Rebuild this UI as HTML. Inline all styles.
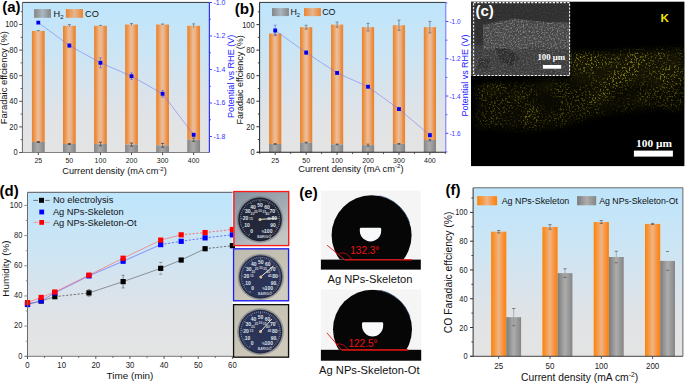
<!DOCTYPE html>
<html><head><meta charset="utf-8"><style>
html,body{margin:0;padding:0;background:#fff;width:685px;height:383px;overflow:hidden}
svg{display:block}
svg{font-family:"Liberation Sans", sans-serif}
</style></head><body>
<svg width="685" height="383" viewBox="0 0 685 383">
<defs>
<linearGradient id="bg" x1="0" y1="0" x2="0" y2="1">
  <stop offset="0" stop-color="#bee5fc"/>
  <stop offset="0.35" stop-color="#cce5f4"/>
  <stop offset="0.62" stop-color="#dae3eb"/>
  <stop offset="0.8" stop-color="#e1e3e5"/>
  <stop offset="1" stop-color="#e4e4e4"/>
</linearGradient>
<linearGradient id="og" x1="0" y1="0" x2="1" y2="0">
  <stop offset="0" stop-color="#e9812f"/>
  <stop offset="0.18" stop-color="#ee9549"/>
  <stop offset="0.45" stop-color="#ebbd98"/>
  <stop offset="0.62" stop-color="#ebb38c"/>
  <stop offset="0.85" stop-color="#ec8e40"/>
  <stop offset="1" stop-color="#e8812e"/>
</linearGradient>
<linearGradient id="gg" x1="0" y1="0" x2="1" y2="0">
  <stop offset="0" stop-color="#858585"/>
  <stop offset="0.45" stop-color="#ababab"/>
  <stop offset="1" stop-color="#838383"/>
</linearGradient>
<linearGradient id="ogl" x1="0" y1="0" x2="1" y2="0">
  <stop offset="0" stop-color="#eb8330"/>
  <stop offset="0.5" stop-color="#e4b690"/>
  <stop offset="1" stop-color="#eb8330"/>
</linearGradient>
<linearGradient id="ggl" x1="0" y1="0" x2="1" y2="0">
  <stop offset="0" stop-color="#858585"/>
  <stop offset="0.5" stop-color="#a9b7c0"/>
  <stop offset="1" stop-color="#858585"/>
</linearGradient>
<linearGradient id="of" x1="0" y1="0" x2="1" y2="0">
  <stop offset="0" stop-color="#ff8203"/>
  <stop offset="0.2" stop-color="#f7953a"/>
  <stop offset="0.5" stop-color="#efb585"/>
  <stop offset="0.8" stop-color="#f9903a"/>
  <stop offset="1" stop-color="#ff8204"/>
</linearGradient>
<linearGradient id="gf" x1="0" y1="0" x2="1" y2="0">
  <stop offset="0" stop-color="#7a7a7a"/>
  <stop offset="0.5" stop-color="#adadad"/>
  <stop offset="1" stop-color="#858585"/>
</linearGradient>

<filter id="speck" filterUnits="userSpaceOnUse" x="471" y="36" width="214" height="100" color-interpolation-filters="sRGB">
  <feTurbulence type="fractalNoise" baseFrequency="0.55" numOctaves="2" seed="3" result="fine"/>
  <feTurbulence type="fractalNoise" baseFrequency="0.045" numOctaves="2" seed="11" result="coarse"/>
  <feColorMatrix in="fine" type="matrix" values="0 0 0 0 0  0 0 0 0 0  0 0 0 0 0  6 0 0 0 -3.2" result="fa"/>
  <feColorMatrix in="coarse" type="matrix" values="0 0 0 0 0  0 0 0 0 0  0 0 0 0 0  2.6 0 0 0 -0.55" result="ca"/>
  <feComposite in="fa" in2="ca" operator="arithmetic" k1="1" k2="0" k3="0" k4="0" result="a"/>
  <feFlood flood-color="#8a8416" result="col"/>
  <feComposite in="col" in2="a" operator="in"/>
  <feGaussianBlur stdDeviation="0.6"/>
</filter>
<filter id="bandblur" filterUnits="userSpaceOnUse" x="440" y="0" width="280" height="180">
  <feGaussianBlur stdDeviation="3"/>
</filter>
<mask id="speckmask" maskUnits="userSpaceOnUse" x="471" y="30" width="214" height="110">
  <g filter="url(#bandblur)">
    <path d="M476,86 L570,80 L570,54 L684,50 L684,110 L650,108 L615,112 L590,116 L565,126 L530,130 L476,126 Z" fill="#7a7a7a"/>
    <path d="M570,80 L570,54 L684,50 L684,80 L640,82 L600,86 Z" fill="#e8e8e8"/>
    <ellipse cx="531" cy="112" rx="9" ry="3.5" transform="rotate(-55 531 112)" fill="#fff"/>
    <ellipse cx="492" cy="88" rx="9" ry="4" fill="#fff"/>
    <ellipse cx="518" cy="96" rx="8" ry="4" fill="#ddd"/>
    <ellipse cx="600" cy="96" rx="10" ry="6" fill="#fff"/>
    <ellipse cx="662" cy="84" rx="9" ry="5" fill="#fff"/>
    <ellipse cx="548" cy="84" rx="10" ry="4" fill="#eee"/>
    <ellipse cx="640" cy="100" rx="8" ry="5" fill="#ccc"/>
  </g>
</mask>
<clipPath id="insetclip"><rect x="471" y="1.7" width="99" height="74"/></clipPath>
<filter id="semn" filterUnits="userSpaceOnUse" x="471" y="1.7" width="99" height="74" color-interpolation-filters="sRGB">
  <feTurbulence type="fractalNoise" baseFrequency="0.65" numOctaves="2" seed="5"/>
  <feColorMatrix type="matrix" values="0 0 0 0 0.68  0 0 0 0 0.68  0 0 0 0 0.68  1.8 0 0 0 -0.82"/>
</filter>
<mask id="semmask" maskUnits="userSpaceOnUse" x="471" y="1.7" width="99" height="74">
  <rect x="471" y="1.7" width="99" height="74" fill="#333"/>
  <path d="M483,25 L500,21 L515,18.5 L545,22 L570,22.5 L570,49 L483,49 Z" fill="#fff"/>
  <rect x="471" y="49" width="99" height="27" fill="#999"/>
</mask>

<linearGradient id="gbg1" x1="0" y1="0" x2="0.6" y2="1">
  <stop offset="0" stop-color="#84929f"/>
  <stop offset="0.55" stop-color="#a2aab2"/>
  <stop offset="1" stop-color="#c4c6c4"/>
</linearGradient>
<linearGradient id="gbg2" x1="0" y1="0" x2="0.6" y2="1">
  <stop offset="0" stop-color="#bebcb0"/>
  <stop offset="0.6" stop-color="#c6c2b4"/>
  <stop offset="1" stop-color="#d0ccc0"/>
</linearGradient>
<linearGradient id="gbg3" x1="0" y1="0" x2="0.6" y2="1">
  <stop offset="0" stop-color="#c2beb0"/>
  <stop offset="0.6" stop-color="#c8c4b6"/>
  <stop offset="1" stop-color="#d0cabc"/>
</linearGradient>
</defs>
<rect width="685" height="383" fill="#fff"/>
<rect x="22.4" y="2.4" width="187" height="150.1" fill="url(#bg)" />
<rect x="31.9" y="30.9" width="12.8" height="111.1" fill="url(#og)" />
<rect x="31.9" y="142" width="12.8" height="10.5" fill="url(#gg)" />
<rect x="62.97" y="25.78" width="12.8" height="118.27" fill="url(#og)" />
<rect x="62.97" y="144.05" width="12.8" height="8.45" fill="url(#gg)" />
<rect x="94.04" y="25.78" width="12.8" height="118.27" fill="url(#og)" />
<rect x="94.04" y="144.05" width="12.8" height="8.45" fill="url(#gg)" />
<rect x="125.11" y="24.5" width="12.8" height="120.06" fill="url(#og)" />
<rect x="125.11" y="144.56" width="12.8" height="7.94" fill="url(#gg)" />
<rect x="156.18" y="24.5" width="12.8" height="120.83" fill="url(#og)" />
<rect x="156.18" y="145.33" width="12.8" height="7.17" fill="url(#gg)" />
<rect x="187.25" y="25.78" width="12.8" height="113.92" fill="url(#og)" />
<rect x="187.25" y="139.7" width="12.8" height="12.8" fill="url(#gg)" />
<line x1="38.3" y1="30.52" x2="38.3" y2="31.28" stroke="#555" stroke-width="0.6" />
<line x1="36.8" y1="30.52" x2="39.8" y2="30.52" stroke="#555" stroke-width="0.6" />
<line x1="69.37" y1="24.5" x2="69.37" y2="27.06" stroke="#555" stroke-width="0.6" />
<line x1="67.87" y1="24.5" x2="70.87" y2="24.5" stroke="#555" stroke-width="0.6" />
<line x1="100.44" y1="25.4" x2="100.44" y2="26.16" stroke="#555" stroke-width="0.6" />
<line x1="98.94" y1="25.4" x2="101.94" y2="25.4" stroke="#555" stroke-width="0.6" />
<line x1="131.51" y1="23.48" x2="131.51" y2="25.52" stroke="#555" stroke-width="0.6" />
<line x1="130.01" y1="23.48" x2="133.01" y2="23.48" stroke="#555" stroke-width="0.6" />
<line x1="162.58" y1="23.99" x2="162.58" y2="25.01" stroke="#555" stroke-width="0.6" />
<line x1="161.08" y1="23.99" x2="164.08" y2="23.99" stroke="#555" stroke-width="0.6" />
<line x1="193.65" y1="23.86" x2="193.65" y2="27.7" stroke="#555" stroke-width="0.6" />
<line x1="192.15" y1="23.86" x2="195.15" y2="23.86" stroke="#555" stroke-width="0.6" />
<line x1="38.3" y1="141.49" x2="38.3" y2="142.52" stroke="#444" stroke-width="0.6" />
<line x1="36.7" y1="141.49" x2="39.9" y2="141.49" stroke="#333" stroke-width="0.7" />
<line x1="36.7" y1="142.52" x2="39.9" y2="142.52" stroke="#333" stroke-width="0.7" />
<line x1="69.37" y1="143.54" x2="69.37" y2="144.56" stroke="#444" stroke-width="0.6" />
<line x1="67.77" y1="143.54" x2="70.97" y2="143.54" stroke="#333" stroke-width="0.7" />
<line x1="67.77" y1="144.56" x2="70.97" y2="144.56" stroke="#333" stroke-width="0.7" />
<line x1="100.44" y1="142.26" x2="100.44" y2="145.84" stroke="#444" stroke-width="0.6" />
<line x1="98.84" y1="142.26" x2="102.04" y2="142.26" stroke="#333" stroke-width="0.7" />
<line x1="98.84" y1="145.84" x2="102.04" y2="145.84" stroke="#333" stroke-width="0.7" />
<line x1="131.51" y1="143.03" x2="131.51" y2="146.1" stroke="#444" stroke-width="0.6" />
<line x1="129.91" y1="143.03" x2="133.11" y2="143.03" stroke="#333" stroke-width="0.7" />
<line x1="129.91" y1="146.1" x2="133.11" y2="146.1" stroke="#333" stroke-width="0.7" />
<line x1="162.58" y1="143.41" x2="162.58" y2="147.25" stroke="#444" stroke-width="0.6" />
<line x1="160.98" y1="143.41" x2="164.18" y2="143.41" stroke="#333" stroke-width="0.7" />
<line x1="160.98" y1="147.25" x2="164.18" y2="147.25" stroke="#333" stroke-width="0.7" />
<line x1="193.65" y1="138.16" x2="193.65" y2="141.24" stroke="#444" stroke-width="0.6" />
<line x1="192.05" y1="138.16" x2="195.25" y2="138.16" stroke="#333" stroke-width="0.7" />
<line x1="192.05" y1="141.24" x2="195.25" y2="141.24" stroke="#333" stroke-width="0.7" />
<rect x="34.1" y="9.1" width="16.8" height="8.7" fill="url(#ggl)" />
<rect x="65.9" y="9.1" width="17.1" height="8.7" fill="url(#ogl)" />
<text x="53.6" y="16.9" font-size="9.2" fill="#111">H<tspan font-size="6" dy="2.1">2</tspan></text>
<text x="85" y="16.9" font-size="9.2" fill="#111" text-anchor="start" font-weight="normal" >CO</text>
<line x1="22.4" y1="2.4" x2="209.4" y2="2.4" stroke="#333" stroke-width="1" />
<line x1="22.4" y1="2.4" x2="22.4" y2="152.5" stroke="#555" stroke-width="0.9" />
<line x1="19.8" y1="152.5" x2="209.4" y2="152.5" stroke="#808080" stroke-width="1" />
<line x1="209.4" y1="2.4" x2="209.4" y2="152.5" stroke="#3333ff" stroke-width="1.2" />
<line x1="19.2" y1="152.5" x2="22.4" y2="152.5" stroke="#555" stroke-width="1" />
<text transform="translate(17.6,155.49) scale(0.9,1)" font-size="8.3" fill="#222" text-anchor="end">0</text>
<line x1="19.2" y1="126.9" x2="22.4" y2="126.9" stroke="#555" stroke-width="1" />
<text transform="translate(17.6,129.89) scale(0.9,1)" font-size="8.3" fill="#222" text-anchor="end">20</text>
<line x1="19.2" y1="101.3" x2="22.4" y2="101.3" stroke="#555" stroke-width="1" />
<text transform="translate(17.6,104.29) scale(0.9,1)" font-size="8.3" fill="#222" text-anchor="end">40</text>
<line x1="19.2" y1="75.7" x2="22.4" y2="75.7" stroke="#555" stroke-width="1" />
<text transform="translate(17.6,78.69) scale(0.9,1)" font-size="8.3" fill="#222" text-anchor="end">60</text>
<line x1="19.2" y1="50.1" x2="22.4" y2="50.1" stroke="#555" stroke-width="1" />
<text transform="translate(17.6,53.09) scale(0.9,1)" font-size="8.3" fill="#222" text-anchor="end">80</text>
<line x1="19.2" y1="24.5" x2="22.4" y2="24.5" stroke="#555" stroke-width="1" />
<text transform="translate(17.6,27.49) scale(0.9,1)" font-size="8.3" fill="#222" text-anchor="end">100</text>
<line x1="20.6" y1="139.7" x2="22.4" y2="139.7" stroke="#555" stroke-width="0.9" />
<line x1="20.6" y1="114.1" x2="22.4" y2="114.1" stroke="#555" stroke-width="0.9" />
<line x1="20.6" y1="88.5" x2="22.4" y2="88.5" stroke="#555" stroke-width="0.9" />
<line x1="20.6" y1="62.9" x2="22.4" y2="62.9" stroke="#555" stroke-width="0.9" />
<line x1="20.6" y1="37.3" x2="22.4" y2="37.3" stroke="#555" stroke-width="0.9" />
<line x1="20.6" y1="11.7" x2="22.4" y2="11.7" stroke="#555" stroke-width="0.9" />
<line x1="38.3" y1="152.5" x2="38.3" y2="155.1" stroke="#333" stroke-width="0.9" />
<text transform="translate(38.3,162.7) scale(0.9,1)" font-size="7.8" fill="#222" text-anchor="middle">25</text>
<line x1="69.37" y1="152.5" x2="69.37" y2="155.1" stroke="#333" stroke-width="0.9" />
<text transform="translate(69.37,162.7) scale(0.9,1)" font-size="7.8" fill="#222" text-anchor="middle">50</text>
<line x1="100.44" y1="152.5" x2="100.44" y2="155.1" stroke="#333" stroke-width="0.9" />
<text transform="translate(100.44,162.7) scale(0.9,1)" font-size="7.8" fill="#222" text-anchor="middle">100</text>
<line x1="131.51" y1="152.5" x2="131.51" y2="155.1" stroke="#333" stroke-width="0.9" />
<text transform="translate(131.51,162.7) scale(0.9,1)" font-size="7.8" fill="#222" text-anchor="middle">200</text>
<line x1="162.58" y1="152.5" x2="162.58" y2="155.1" stroke="#333" stroke-width="0.9" />
<text transform="translate(162.58,162.7) scale(0.9,1)" font-size="7.8" fill="#222" text-anchor="middle">300</text>
<line x1="193.65" y1="152.5" x2="193.65" y2="155.1" stroke="#333" stroke-width="0.9" />
<text transform="translate(193.65,162.7) scale(0.9,1)" font-size="7.8" fill="#222" text-anchor="middle">400</text>
<line x1="209.4" y1="2.5" x2="212" y2="2.5" stroke="#3333ff" stroke-width="0.9" />
<text transform="translate(213.4,4.5) scale(0.9,1)" font-size="7.7" fill="#3030ff" text-anchor="start">-1.0</text>
<line x1="209.4" y1="19.25" x2="211" y2="19.25" stroke="#3333ff" stroke-width="0.8" />
<line x1="209.4" y1="36" x2="212" y2="36" stroke="#3333ff" stroke-width="0.9" />
<text transform="translate(213.4,38) scale(0.9,1)" font-size="7.7" fill="#3030ff" text-anchor="start">-1.2</text>
<line x1="209.4" y1="52.75" x2="211" y2="52.75" stroke="#3333ff" stroke-width="0.8" />
<line x1="209.4" y1="69.5" x2="212" y2="69.5" stroke="#3333ff" stroke-width="0.9" />
<text transform="translate(213.4,71.5) scale(0.9,1)" font-size="7.7" fill="#3030ff" text-anchor="start">-1.4</text>
<line x1="209.4" y1="86.25" x2="211" y2="86.25" stroke="#3333ff" stroke-width="0.8" />
<line x1="209.4" y1="103" x2="212" y2="103" stroke="#3333ff" stroke-width="0.9" />
<text transform="translate(213.4,105) scale(0.9,1)" font-size="7.7" fill="#3030ff" text-anchor="start">-1.6</text>
<line x1="209.4" y1="119.75" x2="211" y2="119.75" stroke="#3333ff" stroke-width="0.8" />
<line x1="209.4" y1="136.5" x2="212" y2="136.5" stroke="#3333ff" stroke-width="0.9" />
<text transform="translate(213.4,138.5) scale(0.9,1)" font-size="7.7" fill="#3030ff" text-anchor="start">-1.8</text>
<polyline fill="none" stroke="#7474f6" stroke-width="0.55" points="38.3,22.6 69.37,45.55 100.44,62.8 131.51,76.2 162.58,93.79 193.65,134.83"/>
<rect x="36.4" y="20.7" width="3.8" height="3.8" fill="#0000ee" />
<line x1="69.37" y1="43.87" x2="69.37" y2="47.22" stroke="#4d4dff" stroke-width="0.6" />
<line x1="68.17" y1="43.87" x2="70.57" y2="43.87" stroke="#4d4dff" stroke-width="0.6" />
<line x1="68.17" y1="47.22" x2="70.57" y2="47.22" stroke="#4d4dff" stroke-width="0.6" />
<rect x="67.47" y="43.65" width="3.8" height="3.8" fill="#0000ee" />
<line x1="100.44" y1="57.78" x2="100.44" y2="67.83" stroke="#4d4dff" stroke-width="0.6" />
<line x1="99.24" y1="57.78" x2="101.64" y2="57.78" stroke="#4d4dff" stroke-width="0.6" />
<line x1="99.24" y1="67.83" x2="101.64" y2="67.83" stroke="#4d4dff" stroke-width="0.6" />
<rect x="98.54" y="60.9" width="3.8" height="3.8" fill="#0000ee" />
<line x1="131.51" y1="72.85" x2="131.51" y2="79.55" stroke="#4d4dff" stroke-width="0.6" />
<line x1="130.31" y1="72.85" x2="132.71" y2="72.85" stroke="#4d4dff" stroke-width="0.6" />
<line x1="130.31" y1="79.55" x2="132.71" y2="79.55" stroke="#4d4dff" stroke-width="0.6" />
<rect x="129.61" y="74.3" width="3.8" height="3.8" fill="#0000ee" />
<line x1="162.58" y1="90.44" x2="162.58" y2="97.14" stroke="#4d4dff" stroke-width="0.6" />
<line x1="161.38" y1="90.44" x2="163.78" y2="90.44" stroke="#4d4dff" stroke-width="0.6" />
<line x1="161.38" y1="97.14" x2="163.78" y2="97.14" stroke="#4d4dff" stroke-width="0.6" />
<rect x="160.68" y="91.89" width="3.8" height="3.8" fill="#0000ee" />
<line x1="193.65" y1="133.15" x2="193.65" y2="136.5" stroke="#4d4dff" stroke-width="0.6" />
<line x1="192.45" y1="133.15" x2="194.85" y2="133.15" stroke="#4d4dff" stroke-width="0.6" />
<line x1="192.45" y1="136.5" x2="194.85" y2="136.5" stroke="#4d4dff" stroke-width="0.6" />
<rect x="191.75" y="132.93" width="3.8" height="3.8" fill="#0000ee" />
<text transform="translate(7.4,77.6) rotate(-90)" font-size="9.4" fill="#111" text-anchor="middle">Faradaic effciency (%)</text>
<text x="114.6" y="174.2" font-size="9.2" fill="#111" text-anchor="middle">Current density (mA cm<tspan font-size="6.2" dy="-3.4">-2</tspan><tspan dy="3.4">)</tspan></text>
<text transform="translate(234.2,76.3) rotate(-90)" font-size="9.1" fill="#2222ff" text-anchor="middle">Potential vs RHE (V)</text>
<text x="2.2" y="11.7" font-size="15" fill="#000" text-anchor="start" font-weight="bold" >(a)</text>
<rect x="259.6" y="2.4" width="186.2" height="149.9" fill="url(#bg)" />
<rect x="269.1" y="33.54" width="12.2" height="110.46" fill="url(#og)" />
<rect x="269.1" y="144" width="12.2" height="8.3" fill="url(#gg)" />
<rect x="300.04" y="27.15" width="12.2" height="115.44" fill="url(#og)" />
<rect x="300.04" y="142.59" width="12.2" height="9.71" fill="url(#gg)" />
<rect x="330.98" y="24.6" width="12.2" height="119.78" fill="url(#og)" />
<rect x="330.98" y="144.38" width="12.2" height="7.92" fill="url(#gg)" />
<rect x="361.92" y="27.15" width="12.2" height="117.99" fill="url(#og)" />
<rect x="361.92" y="145.15" width="12.2" height="7.15" fill="url(#gg)" />
<rect x="392.86" y="25.24" width="12.2" height="118.63" fill="url(#og)" />
<rect x="392.86" y="143.87" width="12.2" height="8.43" fill="url(#gg)" />
<rect x="423.8" y="27.15" width="12.2" height="112.89" fill="url(#og)" />
<rect x="423.8" y="140.04" width="12.2" height="12.26" fill="url(#gg)" />
<line x1="275.2" y1="32.26" x2="275.2" y2="34.82" stroke="#555" stroke-width="0.6" />
<line x1="273.7" y1="32.26" x2="276.7" y2="32.26" stroke="#555" stroke-width="0.6" />
<line x1="273.7" y1="34.82" x2="276.7" y2="34.82" stroke="#555" stroke-width="0.6" />
<line x1="306.14" y1="25.24" x2="306.14" y2="29.07" stroke="#555" stroke-width="0.6" />
<line x1="304.64" y1="25.24" x2="307.64" y2="25.24" stroke="#555" stroke-width="0.6" />
<line x1="304.64" y1="29.07" x2="307.64" y2="29.07" stroke="#555" stroke-width="0.6" />
<line x1="337.08" y1="22.05" x2="337.08" y2="27.15" stroke="#555" stroke-width="0.6" />
<line x1="335.58" y1="22.05" x2="338.58" y2="22.05" stroke="#555" stroke-width="0.6" />
<line x1="335.58" y1="27.15" x2="338.58" y2="27.15" stroke="#555" stroke-width="0.6" />
<line x1="368.02" y1="23.32" x2="368.02" y2="30.99" stroke="#555" stroke-width="0.6" />
<line x1="366.52" y1="23.32" x2="369.52" y2="23.32" stroke="#555" stroke-width="0.6" />
<line x1="366.52" y1="30.99" x2="369.52" y2="30.99" stroke="#555" stroke-width="0.6" />
<line x1="398.96" y1="20.13" x2="398.96" y2="30.35" stroke="#555" stroke-width="0.6" />
<line x1="397.46" y1="20.13" x2="400.46" y2="20.13" stroke="#555" stroke-width="0.6" />
<line x1="397.46" y1="30.35" x2="400.46" y2="30.35" stroke="#555" stroke-width="0.6" />
<line x1="429.9" y1="21.41" x2="429.9" y2="32.9" stroke="#555" stroke-width="0.6" />
<line x1="428.4" y1="21.41" x2="431.4" y2="21.41" stroke="#555" stroke-width="0.6" />
<line x1="428.4" y1="32.9" x2="431.4" y2="32.9" stroke="#555" stroke-width="0.6" />
<line x1="275.2" y1="143.62" x2="275.2" y2="144.38" stroke="#444" stroke-width="0.6" />
<line x1="273.8" y1="143.62" x2="276.6" y2="143.62" stroke="#333" stroke-width="0.6" />
<line x1="273.8" y1="144.38" x2="276.6" y2="144.38" stroke="#333" stroke-width="0.6" />
<line x1="306.14" y1="142.21" x2="306.14" y2="142.98" stroke="#444" stroke-width="0.6" />
<line x1="304.74" y1="142.21" x2="307.54" y2="142.21" stroke="#333" stroke-width="0.6" />
<line x1="304.74" y1="142.98" x2="307.54" y2="142.98" stroke="#333" stroke-width="0.6" />
<line x1="337.08" y1="144" x2="337.08" y2="144.77" stroke="#444" stroke-width="0.6" />
<line x1="335.68" y1="144" x2="338.48" y2="144" stroke="#333" stroke-width="0.6" />
<line x1="335.68" y1="144.77" x2="338.48" y2="144.77" stroke="#333" stroke-width="0.6" />
<line x1="368.02" y1="144.13" x2="368.02" y2="146.17" stroke="#444" stroke-width="0.6" />
<line x1="366.62" y1="144.13" x2="369.42" y2="144.13" stroke="#333" stroke-width="0.6" />
<line x1="366.62" y1="146.17" x2="369.42" y2="146.17" stroke="#333" stroke-width="0.6" />
<line x1="398.96" y1="143.49" x2="398.96" y2="144.25" stroke="#444" stroke-width="0.6" />
<line x1="397.56" y1="143.49" x2="400.36" y2="143.49" stroke="#333" stroke-width="0.6" />
<line x1="397.56" y1="144.25" x2="400.36" y2="144.25" stroke="#333" stroke-width="0.6" />
<line x1="429.9" y1="139.27" x2="429.9" y2="140.81" stroke="#444" stroke-width="0.6" />
<line x1="428.5" y1="139.27" x2="431.3" y2="139.27" stroke="#333" stroke-width="0.6" />
<line x1="428.5" y1="140.81" x2="431.3" y2="140.81" stroke="#333" stroke-width="0.6" />
<line x1="259.73" y1="152.3" x2="259.73" y2="154.1" stroke="#333" stroke-width="0.8" />
<line x1="290.67" y1="152.3" x2="290.67" y2="154.1" stroke="#333" stroke-width="0.8" />
<line x1="321.61" y1="152.3" x2="321.61" y2="154.1" stroke="#333" stroke-width="0.8" />
<line x1="352.55" y1="152.3" x2="352.55" y2="154.1" stroke="#333" stroke-width="0.8" />
<line x1="383.49" y1="152.3" x2="383.49" y2="154.1" stroke="#333" stroke-width="0.8" />
<line x1="414.43" y1="152.3" x2="414.43" y2="154.1" stroke="#333" stroke-width="0.8" />
<line x1="445.37" y1="152.3" x2="445.37" y2="154.1" stroke="#333" stroke-width="0.8" />
<rect x="272" y="8.1" width="16.9" height="8" fill="url(#ggl)" />
<rect x="304" y="8.1" width="16.9" height="8" fill="url(#ogl)" />
<text x="290.4" y="15.1" font-size="8.9" fill="#111">H<tspan font-size="5.8" dy="2">2</tspan></text>
<text x="322.2" y="15.1" font-size="8.9" fill="#111" text-anchor="start" font-weight="normal" >CO</text>
<line x1="259.6" y1="2.4" x2="445.8" y2="2.4" stroke="#333" stroke-width="1" />
<line x1="259.6" y1="2.4" x2="259.6" y2="152.3" stroke="#222" stroke-width="1" />
<line x1="257" y1="152.3" x2="445.8" y2="152.3" stroke="#222" stroke-width="1.1" />
<line x1="445.8" y1="2.4" x2="445.8" y2="152.3" stroke="#7070ff" stroke-width="1" />
<line x1="256.4" y1="152.3" x2="259.6" y2="152.3" stroke="#333" stroke-width="1" />
<text transform="translate(254.6,155.29) scale(0.9,1)" font-size="8.3" fill="#222" text-anchor="end">0</text>
<line x1="256.4" y1="126.76" x2="259.6" y2="126.76" stroke="#333" stroke-width="1" />
<text transform="translate(254.6,129.75) scale(0.9,1)" font-size="8.3" fill="#222" text-anchor="end">20</text>
<line x1="256.4" y1="101.22" x2="259.6" y2="101.22" stroke="#333" stroke-width="1" />
<text transform="translate(254.6,104.21) scale(0.9,1)" font-size="8.3" fill="#222" text-anchor="end">40</text>
<line x1="256.4" y1="75.68" x2="259.6" y2="75.68" stroke="#333" stroke-width="1" />
<text transform="translate(254.6,78.67) scale(0.9,1)" font-size="8.3" fill="#222" text-anchor="end">60</text>
<line x1="256.4" y1="50.14" x2="259.6" y2="50.14" stroke="#333" stroke-width="1" />
<text transform="translate(254.6,53.13) scale(0.9,1)" font-size="8.3" fill="#222" text-anchor="end">80</text>
<line x1="256.4" y1="24.6" x2="259.6" y2="24.6" stroke="#333" stroke-width="1" />
<text transform="translate(254.6,27.59) scale(0.9,1)" font-size="8.3" fill="#222" text-anchor="end">100</text>
<line x1="257.8" y1="139.53" x2="259.6" y2="139.53" stroke="#333" stroke-width="0.9" />
<line x1="257.8" y1="113.99" x2="259.6" y2="113.99" stroke="#333" stroke-width="0.9" />
<line x1="257.8" y1="88.45" x2="259.6" y2="88.45" stroke="#333" stroke-width="0.9" />
<line x1="257.8" y1="62.91" x2="259.6" y2="62.91" stroke="#333" stroke-width="0.9" />
<line x1="257.8" y1="37.37" x2="259.6" y2="37.37" stroke="#333" stroke-width="0.9" />
<line x1="257.8" y1="11.83" x2="259.6" y2="11.83" stroke="#333" stroke-width="0.9" />
<line x1="275.2" y1="152.3" x2="275.2" y2="154.9" stroke="#333" stroke-width="0.9" />
<text transform="translate(275.2,162.6) scale(0.9,1)" font-size="7.8" fill="#222" text-anchor="middle">25</text>
<line x1="306.14" y1="152.3" x2="306.14" y2="154.9" stroke="#333" stroke-width="0.9" />
<text transform="translate(306.14,162.6) scale(0.9,1)" font-size="7.8" fill="#222" text-anchor="middle">50</text>
<line x1="337.08" y1="152.3" x2="337.08" y2="154.9" stroke="#333" stroke-width="0.9" />
<text transform="translate(337.08,162.6) scale(0.9,1)" font-size="7.8" fill="#222" text-anchor="middle">100</text>
<line x1="368.02" y1="152.3" x2="368.02" y2="154.9" stroke="#333" stroke-width="0.9" />
<text transform="translate(368.02,162.6) scale(0.9,1)" font-size="7.8" fill="#222" text-anchor="middle">200</text>
<line x1="398.96" y1="152.3" x2="398.96" y2="154.9" stroke="#333" stroke-width="0.9" />
<text transform="translate(398.96,162.6) scale(0.9,1)" font-size="7.8" fill="#222" text-anchor="middle">300</text>
<line x1="429.9" y1="152.3" x2="429.9" y2="154.9" stroke="#333" stroke-width="0.9" />
<text transform="translate(429.9,162.6) scale(0.9,1)" font-size="7.8" fill="#222" text-anchor="middle">400</text>
<line x1="445.8" y1="21.5" x2="448.4" y2="21.5" stroke="#3333ff" stroke-width="0.9" />
<text transform="translate(449.5,24.1) scale(0.83,1)" font-size="7.7" fill="#3535ff">-1.0</text>
<line x1="445.8" y1="58.77" x2="448.4" y2="58.77" stroke="#3333ff" stroke-width="0.9" />
<text transform="translate(449.5,61.37) scale(0.83,1)" font-size="7.7" fill="#3535ff">-1.2</text>
<line x1="445.8" y1="96.04" x2="448.4" y2="96.04" stroke="#3333ff" stroke-width="0.9" />
<text transform="translate(449.5,98.64) scale(0.83,1)" font-size="7.7" fill="#3535ff">-1.4</text>
<line x1="445.8" y1="133.31" x2="448.4" y2="133.31" stroke="#3333ff" stroke-width="0.9" />
<text transform="translate(449.5,135.91) scale(0.83,1)" font-size="7.7" fill="#3535ff">-1.6</text>
<line x1="445.8" y1="2.87" x2="447.4" y2="2.87" stroke="#3333ff" stroke-width="0.8" />
<line x1="445.8" y1="40.14" x2="447.4" y2="40.14" stroke="#3333ff" stroke-width="0.8" />
<line x1="445.8" y1="77.41" x2="447.4" y2="77.41" stroke="#3333ff" stroke-width="0.8" />
<line x1="445.8" y1="114.68" x2="447.4" y2="114.68" stroke="#3333ff" stroke-width="0.8" />
<line x1="445.8" y1="151.94" x2="447.4" y2="151.94" stroke="#3333ff" stroke-width="0.8" />
<polyline fill="none" stroke="#7474f6" stroke-width="0.55" points="275.2,30.44 306.14,52.62 337.08,72.93 368.02,86.72 398.96,109.08 429.9,135.17"/>
<line x1="275.2" y1="25.23" x2="275.2" y2="35.66" stroke="#5555ff" stroke-width="0.6" />
<line x1="273.9" y1="25.23" x2="276.5" y2="25.23" stroke="#5555ff" stroke-width="0.6" />
<line x1="273.9" y1="35.66" x2="276.5" y2="35.66" stroke="#5555ff" stroke-width="0.6" />
<line x1="306.14" y1="50.76" x2="306.14" y2="54.48" stroke="#5555ff" stroke-width="0.6" />
<line x1="304.84" y1="50.76" x2="307.44" y2="50.76" stroke="#5555ff" stroke-width="0.6" />
<line x1="304.84" y1="54.48" x2="307.44" y2="54.48" stroke="#5555ff" stroke-width="0.6" />
<line x1="337.08" y1="71.81" x2="337.08" y2="74.05" stroke="#5555ff" stroke-width="0.6" />
<line x1="335.78" y1="71.81" x2="338.38" y2="71.81" stroke="#5555ff" stroke-width="0.6" />
<line x1="335.78" y1="74.05" x2="338.38" y2="74.05" stroke="#5555ff" stroke-width="0.6" />
<line x1="368.02" y1="85.6" x2="368.02" y2="87.84" stroke="#5555ff" stroke-width="0.6" />
<line x1="366.72" y1="85.6" x2="369.32" y2="85.6" stroke="#5555ff" stroke-width="0.6" />
<line x1="366.72" y1="87.84" x2="369.32" y2="87.84" stroke="#5555ff" stroke-width="0.6" />
<line x1="398.96" y1="107.97" x2="398.96" y2="110.2" stroke="#5555ff" stroke-width="0.6" />
<line x1="397.66" y1="107.97" x2="400.26" y2="107.97" stroke="#5555ff" stroke-width="0.6" />
<line x1="397.66" y1="110.2" x2="400.26" y2="110.2" stroke="#5555ff" stroke-width="0.6" />
<line x1="429.9" y1="133.31" x2="429.9" y2="137.04" stroke="#5555ff" stroke-width="0.6" />
<line x1="428.6" y1="133.31" x2="431.2" y2="133.31" stroke="#5555ff" stroke-width="0.6" />
<line x1="428.6" y1="137.04" x2="431.2" y2="137.04" stroke="#5555ff" stroke-width="0.6" />
<rect x="273.3" y="28.54" width="3.8" height="3.8" fill="#0000ee" />
<rect x="304.24" y="50.72" width="3.8" height="3.8" fill="#0000ee" />
<rect x="335.18" y="71.03" width="3.8" height="3.8" fill="#0000ee" />
<rect x="366.12" y="84.82" width="3.8" height="3.8" fill="#0000ee" />
<rect x="397.06" y="107.18" width="3.8" height="3.8" fill="#0000ee" />
<rect x="428" y="133.27" width="3.8" height="3.8" fill="#0000ee" />
<text transform="translate(243.1,79.9) rotate(-90)" font-size="9.0" fill="#111" text-anchor="middle">Faradaic effciency (%)</text>
<text x="350.9" y="171.8" font-size="9.25" fill="#111" text-anchor="middle">Current density (mA cm<tspan font-size="6.2" dy="-3.4">-2</tspan><tspan dy="3.4">)</tspan></text>
<text transform="translate(467.7,75.6) rotate(-90)" font-size="8.95" fill="#2222ff" text-anchor="middle">Potential vs RHE (V)</text>
<text x="234.8" y="14.1" font-size="15.2" fill="#000" text-anchor="start" font-weight="bold" >(b)</text>
<g id="panelc">
<rect x="471" y="1.7" width="213.4" height="164.4" fill="#000" />
<rect x="471" y="36" width="213.4" height="100" fill="#161504" mask="url(#speckmask)"/>
<rect x="471" y="36" width="213.4" height="100" fill="#000" filter="url(#speck)" mask="url(#speckmask)"/>
<g clip-path="url(#insetclip)">
<rect x="471" y="1.7" width="99" height="74" fill="#2f2f2f"/>
<path d="M471,44 L490,46 L510,44 L530,47 L570,46 L570,76 L471,76 Z" fill="#3d3d3d"/>
<path d="M483,25 L492,23 L500,21 L508,20 L515,18.5 L525,20 L535,21 L545,22 L570,22.5 L570,49 L555,50 L540,47 L525,48 L515,52 L505,48 L495,50 L483,49 Z" fill="#474747"/>
<path d="M495,48 L510,49 L520,58 L512,66 L500,62 Z" fill="#2a2a2a" opacity="0.8"/>
<path d="M480,58 L490,60 L488,70 L478,68 Z" fill="#2c2c2c" opacity="0.7"/>
<rect x="471" y="1.7" width="99" height="74" filter="url(#semn)" mask="url(#semmask)"/>
</g>
<rect x="473.6" y="2.6" width="96" height="72.9" fill="none" stroke="#f4f4f4" stroke-width="1.1" stroke-dasharray="2.2,1.4"/>
<text x="475.5" y="16.1" font-size="15" fill="#fff" font-weight="bold" font-family="Liberation Sans">(c)</text>
<text x="565.2" y="59.8" font-size="8.8" fill="#fff" text-anchor="end" font-weight="bold" font-family="Liberation Serif">100 μm</text>
<rect x="542.9" y="65" width="18.3" height="3.7" fill="#fff" />
<text x="664.8" y="22" font-size="11.6" fill="#f2e600" text-anchor="middle" font-weight="bold">K</text>
<text x="654" y="147.2" font-size="11.4" fill="#fff" text-anchor="middle" font-weight="bold" font-family="Liberation Serif">100 μm</text>
<rect x="633.9" y="150.6" width="39" height="6" fill="#fff" />
</g>
<rect x="27.5" y="192.3" width="205.1" height="164" fill="url(#bg)" />
<line x1="27.5" y1="303.94" x2="41.16" y2="301.07" stroke="#4a4a4a" stroke-width="0.55" />
<line x1="41.16" y1="301.07" x2="54.82" y2="296.69" stroke="#4a4a4a" stroke-width="0.55" />
<line x1="54.82" y1="296.69" x2="88.97" y2="292.92" stroke="#4a4a4a" stroke-width="0.75" stroke-dasharray="2.2,1.6"/>
<line x1="88.97" y1="292.92" x2="123.12" y2="281.6" stroke="#4a4a4a" stroke-width="0.55" />
<line x1="123.12" y1="281.6" x2="160.69" y2="268.33" stroke="#4a4a4a" stroke-width="0.55" />
<line x1="160.69" y1="268.33" x2="181.18" y2="260.03" stroke="#4a4a4a" stroke-width="0.55" />
<line x1="181.18" y1="260.03" x2="205.08" y2="248.71" stroke="#4a4a4a" stroke-width="0.55" />
<line x1="205.08" y1="248.71" x2="232.4" y2="245.69" stroke="#4a4a4a" stroke-width="0.75" stroke-dasharray="2.2,1.6"/>
<line x1="27.5" y1="304.54" x2="41.16" y2="300.77" stroke="#4c4cff" stroke-width="0.55" />
<line x1="41.16" y1="300.77" x2="54.82" y2="292.92" stroke="#4c4cff" stroke-width="0.55" />
<line x1="54.82" y1="292.92" x2="88.97" y2="275.87" stroke="#4c4cff" stroke-width="0.55" />
<line x1="88.97" y1="275.87" x2="123.12" y2="261.23" stroke="#4c4cff" stroke-width="0.55" />
<line x1="123.12" y1="261.23" x2="160.69" y2="244.63" stroke="#4c4cff" stroke-width="0.55" />
<line x1="160.69" y1="244.63" x2="181.18" y2="241.31" stroke="#4c4cff" stroke-width="0.75" stroke-dasharray="2.2,1.6"/>
<line x1="181.18" y1="241.31" x2="205.08" y2="237.84" stroke="#4c4cff" stroke-width="0.75" stroke-dasharray="2.2,1.6"/>
<line x1="205.08" y1="237.84" x2="232.4" y2="234.83" stroke="#4c4cff" stroke-width="0.75" stroke-dasharray="2.2,1.6"/>
<line x1="27.5" y1="302.58" x2="41.16" y2="297.45" stroke="#ff5050" stroke-width="0.55" />
<line x1="41.16" y1="297.45" x2="54.82" y2="292.02" stroke="#ff5050" stroke-width="0.55" />
<line x1="54.82" y1="292.02" x2="88.97" y2="275.12" stroke="#ff5050" stroke-width="0.55" />
<line x1="88.97" y1="275.12" x2="123.12" y2="258.22" stroke="#ff5050" stroke-width="0.55" />
<line x1="123.12" y1="258.22" x2="160.69" y2="240.11" stroke="#ff5050" stroke-width="0.55" />
<line x1="160.69" y1="240.11" x2="181.18" y2="234.83" stroke="#ff5050" stroke-width="0.55" />
<line x1="181.18" y1="234.83" x2="205.08" y2="232.56" stroke="#ff5050" stroke-width="0.75" stroke-dasharray="2.2,1.6"/>
<line x1="205.08" y1="232.56" x2="232.4" y2="229.54" stroke="#ff5050" stroke-width="0.75" stroke-dasharray="2.2,1.6"/>
<line x1="88.97" y1="289.6" x2="88.97" y2="296.24" stroke="#b0b8c0" stroke-width="0.6" />
<line x1="87.47" y1="289.6" x2="90.47" y2="289.6" stroke="#555" stroke-width="0.6" />
<line x1="87.47" y1="296.24" x2="90.47" y2="296.24" stroke="#555" stroke-width="0.6" />
<line x1="123.12" y1="275.27" x2="123.12" y2="287.94" stroke="#555" stroke-width="0.6" />
<line x1="121.62" y1="275.27" x2="124.62" y2="275.27" stroke="#555" stroke-width="0.6" />
<line x1="121.62" y1="287.94" x2="124.62" y2="287.94" stroke="#555" stroke-width="0.6" />
<line x1="160.69" y1="262.44" x2="160.69" y2="274.21" stroke="#b0b8c0" stroke-width="0.6" />
<line x1="159.19" y1="262.44" x2="162.19" y2="262.44" stroke="#555" stroke-width="0.6" />
<line x1="159.19" y1="274.21" x2="162.19" y2="274.21" stroke="#555" stroke-width="0.6" />
<rect x="24.9" y="301.34" width="5.2" height="5.2" fill="#000" />
<rect x="38.56" y="298.47" width="5.2" height="5.2" fill="#000" />
<rect x="52.22" y="294.09" width="5.2" height="5.2" fill="#000" />
<rect x="86.37" y="290.32" width="5.2" height="5.2" fill="#000" />
<rect x="120.52" y="279" width="5.2" height="5.2" fill="#000" />
<rect x="158.09" y="265.73" width="5.2" height="5.2" fill="#000" />
<rect x="178.58" y="257.43" width="5.2" height="5.2" fill="#000" />
<rect x="202.48" y="246.11" width="5.2" height="5.2" fill="#000" />
<rect x="229.8" y="243.09" width="5.2" height="5.2" fill="#000" />
<rect x="24.9" y="301.94" width="5.2" height="5.2" fill="#0000ff" />
<rect x="38.56" y="298.17" width="5.2" height="5.2" fill="#0000ff" />
<rect x="52.22" y="290.32" width="5.2" height="5.2" fill="#0000ff" />
<rect x="86.37" y="273.27" width="5.2" height="5.2" fill="#0000ff" />
<rect x="120.52" y="258.63" width="5.2" height="5.2" fill="#0000ff" />
<rect x="158.09" y="242.03" width="5.2" height="5.2" fill="#0000ff" />
<rect x="178.58" y="238.71" width="5.2" height="5.2" fill="#0000ff" />
<rect x="202.48" y="235.24" width="5.2" height="5.2" fill="#0000ff" />
<rect x="229.8" y="232.23" width="5.2" height="5.2" fill="#0000ff" />
<rect x="24.9" y="299.98" width="5.2" height="5.2" fill="#ff0000" />
<rect x="38.56" y="294.85" width="5.2" height="5.2" fill="#ff0000" />
<rect x="52.22" y="289.42" width="5.2" height="5.2" fill="#ff0000" />
<rect x="86.37" y="272.52" width="5.2" height="5.2" fill="#ff0000" />
<rect x="120.52" y="255.62" width="5.2" height="5.2" fill="#ff0000" />
<rect x="158.09" y="237.51" width="5.2" height="5.2" fill="#ff0000" />
<rect x="178.58" y="232.23" width="5.2" height="5.2" fill="#ff0000" />
<rect x="202.48" y="229.96" width="5.2" height="5.2" fill="#ff0000" />
<rect x="229.8" y="226.94" width="5.2" height="5.2" fill="#ff0000" />
<line x1="27.5" y1="192.3" x2="232.6" y2="192.3" stroke="#555" stroke-width="1" />
<line x1="27.5" y1="192.3" x2="27.5" y2="358.9" stroke="#6a6a6a" stroke-width="1" />
<line x1="24.9" y1="356.3" x2="232.6" y2="356.3" stroke="#777" stroke-width="1" />
<line x1="24.3" y1="356.3" x2="27.5" y2="356.3" stroke="#8a8a8a" stroke-width="1" />
<text transform="translate(22.3,358.59) scale(0.9,1)" font-size="8.3" fill="#222" text-anchor="end">0</text>
<line x1="24.3" y1="326.12" x2="27.5" y2="326.12" stroke="#8a8a8a" stroke-width="1" />
<text transform="translate(22.3,328.41) scale(0.9,1)" font-size="8.3" fill="#222" text-anchor="end">20</text>
<line x1="24.3" y1="295.94" x2="27.5" y2="295.94" stroke="#8a8a8a" stroke-width="1" />
<text transform="translate(22.3,298.23) scale(0.9,1)" font-size="8.3" fill="#222" text-anchor="end">40</text>
<line x1="24.3" y1="265.76" x2="27.5" y2="265.76" stroke="#8a8a8a" stroke-width="1" />
<text transform="translate(22.3,268.05) scale(0.9,1)" font-size="8.3" fill="#222" text-anchor="end">60</text>
<line x1="24.3" y1="235.58" x2="27.5" y2="235.58" stroke="#8a8a8a" stroke-width="1" />
<text transform="translate(22.3,237.87) scale(0.9,1)" font-size="8.3" fill="#222" text-anchor="end">80</text>
<line x1="24.3" y1="205.4" x2="27.5" y2="205.4" stroke="#8a8a8a" stroke-width="1" />
<text transform="translate(22.3,207.69) scale(0.9,1)" font-size="8.3" fill="#222" text-anchor="end">100</text>
<line x1="25.7" y1="341.21" x2="27.5" y2="341.21" stroke="#8a8a8a" stroke-width="0.9" />
<line x1="25.7" y1="311.03" x2="27.5" y2="311.03" stroke="#8a8a8a" stroke-width="0.9" />
<line x1="25.7" y1="280.85" x2="27.5" y2="280.85" stroke="#8a8a8a" stroke-width="0.9" />
<line x1="25.7" y1="250.67" x2="27.5" y2="250.67" stroke="#8a8a8a" stroke-width="0.9" />
<line x1="25.7" y1="220.49" x2="27.5" y2="220.49" stroke="#8a8a8a" stroke-width="0.9" />
<line x1="27.5" y1="356.3" x2="27.5" y2="358.9" stroke="#444" stroke-width="0.9" />
<text transform="translate(27.5,367.7) scale(0.95,1)" font-size="8.2" fill="#222" text-anchor="middle">0</text>
<line x1="61.65" y1="356.3" x2="61.65" y2="358.9" stroke="#444" stroke-width="0.9" />
<text transform="translate(61.65,367.7) scale(0.95,1)" font-size="8.2" fill="#222" text-anchor="middle">10</text>
<line x1="95.8" y1="356.3" x2="95.8" y2="358.9" stroke="#444" stroke-width="0.9" />
<text transform="translate(95.8,367.7) scale(0.95,1)" font-size="8.2" fill="#222" text-anchor="middle">20</text>
<line x1="129.95" y1="356.3" x2="129.95" y2="358.9" stroke="#444" stroke-width="0.9" />
<text transform="translate(129.95,367.7) scale(0.95,1)" font-size="8.2" fill="#222" text-anchor="middle">30</text>
<line x1="164.1" y1="356.3" x2="164.1" y2="358.9" stroke="#444" stroke-width="0.9" />
<text transform="translate(164.1,367.7) scale(0.95,1)" font-size="8.2" fill="#222" text-anchor="middle">40</text>
<line x1="198.25" y1="356.3" x2="198.25" y2="358.9" stroke="#444" stroke-width="0.9" />
<text transform="translate(198.25,367.7) scale(0.95,1)" font-size="8.2" fill="#222" text-anchor="middle">50</text>
<line x1="232.4" y1="356.3" x2="232.4" y2="358.9" stroke="#444" stroke-width="0.9" />
<text transform="translate(232.4,367.7) scale(0.95,1)" font-size="8.2" fill="#222" text-anchor="middle">60</text>
<line x1="44.58" y1="356.3" x2="44.58" y2="357.9" stroke="#444" stroke-width="0.8" />
<line x1="78.72" y1="356.3" x2="78.72" y2="357.9" stroke="#444" stroke-width="0.8" />
<line x1="112.88" y1="356.3" x2="112.88" y2="357.9" stroke="#444" stroke-width="0.8" />
<line x1="147.03" y1="356.3" x2="147.03" y2="357.9" stroke="#444" stroke-width="0.8" />
<line x1="181.18" y1="356.3" x2="181.18" y2="357.9" stroke="#444" stroke-width="0.8" />
<line x1="215.32" y1="356.3" x2="215.32" y2="357.9" stroke="#444" stroke-width="0.8" />
<line x1="33.3" y1="200.4" x2="38" y2="200.4" stroke="#444" stroke-width="0.7" />
<line x1="45" y1="200.4" x2="49.8" y2="200.4" stroke="#444" stroke-width="0.7" />
<rect x="39" y="197.8" width="5" height="5" fill="#000" />
<rect x="39.3" y="209.6" width="4.8" height="4.8" fill="#0000ff" />
<line x1="33.3" y1="222.4" x2="38" y2="222.4" stroke="#ff8080" stroke-width="0.7" />
<line x1="45" y1="222.4" x2="49.8" y2="222.4" stroke="#ff8080" stroke-width="0.7" />
<rect x="39.3" y="220" width="4.8" height="4.8" fill="#ff0000" />
<text x="52.9" y="203.4" font-size="9.3" fill="#111" text-anchor="start" font-weight="normal" >No electrolysis</text>
<text x="52.9" y="214.8" font-size="9.3" fill="#111" text-anchor="start" font-weight="normal" >Ag NPs-Skeleton</text>
<text x="52.9" y="226" font-size="9.3" fill="#111" text-anchor="start" font-weight="normal" >Ag NPs-Skeleton-Ot</text>
<text transform="translate(9.2,268.6) rotate(-90)" font-size="9.8" fill="#111" text-anchor="middle">Humidity (%)</text>
<text x="130" y="378.9" font-size="9.9" fill="#111" text-anchor="middle" font-weight="normal" >Time (min)</text>
<text x="-0.4" y="196.3" font-size="15" fill="#000" text-anchor="start" font-weight="bold" >(d)</text>
<rect x="233.3" y="190.9" width="56" height="55.3" fill="url(#gbg1)"/>
<circle cx="260" cy="219.4" r="23.4" fill="#70767e" opacity="0.6"/>
<circle cx="260" cy="219.4" r="21.8" fill="#1b2030"/>
<circle cx="260" cy="219.4" r="20.6" fill="#222839"/>
<line x1="248.37" y1="236.01" x2="250" y2="233.69" stroke="#d0d4dc" stroke-width="0.45" />
<line x1="246.75" y1="234.75" x2="247.61" y2="233.76" stroke="#d0d4dc" stroke-width="0.45" />
<line x1="245.27" y1="233.33" x2="246.22" y2="232.43" stroke="#d0d4dc" stroke-width="0.45" />
<line x1="243.94" y1="231.77" x2="244.97" y2="230.97" stroke="#d0d4dc" stroke-width="0.45" />
<line x1="242.77" y1="230.08" x2="243.88" y2="229.39" stroke="#d0d4dc" stroke-width="0.45" />
<line x1="241.78" y1="228.29" x2="244.33" y2="227.05" stroke="#d0d4dc" stroke-width="0.45" />
<line x1="240.97" y1="226.4" x2="242.2" y2="225.95" stroke="#d0d4dc" stroke-width="0.45" />
<line x1="240.36" y1="224.44" x2="241.63" y2="224.12" stroke="#d0d4dc" stroke-width="0.45" />
<line x1="239.95" y1="222.43" x2="241.25" y2="222.24" stroke="#d0d4dc" stroke-width="0.45" />
<line x1="239.75" y1="220.39" x2="241.06" y2="220.33" stroke="#d0d4dc" stroke-width="0.45" />
<line x1="239.75" y1="218.34" x2="242.58" y2="218.49" stroke="#d0d4dc" stroke-width="0.45" />
<line x1="239.96" y1="216.3" x2="241.26" y2="216.5" stroke="#d0d4dc" stroke-width="0.45" />
<line x1="240.38" y1="214.29" x2="241.65" y2="214.62" stroke="#d0d4dc" stroke-width="0.45" />
<line x1="241" y1="212.33" x2="242.22" y2="212.79" stroke="#d0d4dc" stroke-width="0.45" />
<line x1="241.81" y1="210.45" x2="242.98" y2="211.03" stroke="#d0d4dc" stroke-width="0.45" />
<line x1="242.81" y1="208.66" x2="245.21" y2="210.16" stroke="#d0d4dc" stroke-width="0.45" />
<line x1="243.98" y1="206.97" x2="245.01" y2="207.78" stroke="#d0d4dc" stroke-width="0.45" />
<line x1="245.32" y1="205.42" x2="246.27" y2="206.32" stroke="#d0d4dc" stroke-width="0.45" />
<line x1="246.81" y1="204.01" x2="247.66" y2="205" stroke="#d0d4dc" stroke-width="0.45" />
<line x1="248.43" y1="202.75" x2="249.18" y2="203.83" stroke="#d0d4dc" stroke-width="0.45" />
<line x1="250.17" y1="201.67" x2="251.54" y2="204.15" stroke="#d0d4dc" stroke-width="0.45" />
<line x1="252.01" y1="200.77" x2="252.53" y2="201.97" stroke="#d0d4dc" stroke-width="0.45" />
<line x1="253.94" y1="200.05" x2="254.33" y2="201.3" stroke="#d0d4dc" stroke-width="0.45" />
<line x1="255.92" y1="199.54" x2="256.19" y2="200.82" stroke="#d0d4dc" stroke-width="0.45" />
<line x1="257.95" y1="199.23" x2="258.08" y2="200.53" stroke="#d0d4dc" stroke-width="0.45" />
<line x1="260" y1="199.13" x2="260" y2="201.96" stroke="#d0d4dc" stroke-width="0.45" />
<line x1="262.05" y1="199.23" x2="261.92" y2="200.53" stroke="#d0d4dc" stroke-width="0.45" />
<line x1="264.08" y1="199.54" x2="263.81" y2="200.82" stroke="#d0d4dc" stroke-width="0.45" />
<line x1="266.06" y1="200.05" x2="265.67" y2="201.3" stroke="#d0d4dc" stroke-width="0.45" />
<line x1="267.99" y1="200.77" x2="267.47" y2="201.97" stroke="#d0d4dc" stroke-width="0.45" />
<line x1="269.83" y1="201.67" x2="268.46" y2="204.15" stroke="#d0d4dc" stroke-width="0.45" />
<line x1="271.57" y1="202.75" x2="270.82" y2="203.83" stroke="#d0d4dc" stroke-width="0.45" />
<line x1="273.19" y1="204.01" x2="272.34" y2="205" stroke="#d0d4dc" stroke-width="0.45" />
<line x1="274.68" y1="205.42" x2="273.73" y2="206.32" stroke="#d0d4dc" stroke-width="0.45" />
<line x1="276.02" y1="206.97" x2="274.99" y2="207.78" stroke="#d0d4dc" stroke-width="0.45" />
<line x1="277.19" y1="208.66" x2="274.79" y2="210.16" stroke="#d0d4dc" stroke-width="0.45" />
<line x1="278.19" y1="210.45" x2="277.02" y2="211.03" stroke="#d0d4dc" stroke-width="0.45" />
<line x1="279" y1="212.33" x2="277.78" y2="212.79" stroke="#d0d4dc" stroke-width="0.45" />
<line x1="279.62" y1="214.29" x2="278.35" y2="214.62" stroke="#d0d4dc" stroke-width="0.45" />
<line x1="280.04" y1="216.3" x2="278.74" y2="216.5" stroke="#d0d4dc" stroke-width="0.45" />
<line x1="280.25" y1="218.34" x2="277.42" y2="218.49" stroke="#d0d4dc" stroke-width="0.45" />
<line x1="280.25" y1="220.39" x2="278.94" y2="220.33" stroke="#d0d4dc" stroke-width="0.45" />
<line x1="280.05" y1="222.43" x2="278.75" y2="222.24" stroke="#d0d4dc" stroke-width="0.45" />
<line x1="279.64" y1="224.44" x2="278.37" y2="224.12" stroke="#d0d4dc" stroke-width="0.45" />
<line x1="279.03" y1="226.4" x2="277.8" y2="225.95" stroke="#d0d4dc" stroke-width="0.45" />
<line x1="278.22" y1="228.29" x2="275.67" y2="227.05" stroke="#d0d4dc" stroke-width="0.45" />
<line x1="277.23" y1="230.08" x2="276.12" y2="229.39" stroke="#d0d4dc" stroke-width="0.45" />
<line x1="276.06" y1="231.77" x2="275.03" y2="230.97" stroke="#d0d4dc" stroke-width="0.45" />
<line x1="274.73" y1="233.33" x2="273.78" y2="232.43" stroke="#d0d4dc" stroke-width="0.45" />
<line x1="273.25" y1="234.75" x2="272.39" y2="233.76" stroke="#d0d4dc" stroke-width="0.45" />
<line x1="271.63" y1="236.01" x2="270" y2="233.69" stroke="#d0d4dc" stroke-width="0.45" />
<text x="251.75" y="232.89" font-size="5" font-weight="bold" fill="#dfe3ea" text-anchor="middle">0</text>
<text x="247.07" y="227.41" font-size="5" font-weight="bold" fill="#dfe3ea" text-anchor="middle">10</text>
<text x="245.63" y="220.35" font-size="5" font-weight="bold" fill="#dfe3ea" text-anchor="middle">20</text>
<text x="247.8" y="213.48" font-size="5" font-weight="bold" fill="#dfe3ea" text-anchor="middle">30</text>
<text x="253.02" y="208.52" font-size="5" font-weight="bold" fill="#dfe3ea" text-anchor="middle">40</text>
<text x="260" y="206.71" font-size="5" font-weight="bold" fill="#dfe3ea" text-anchor="middle">50</text>
<text x="266.98" y="208.52" font-size="5" font-weight="bold" fill="#dfe3ea" text-anchor="middle">60</text>
<text x="272.2" y="213.48" font-size="5" font-weight="bold" fill="#dfe3ea" text-anchor="middle">70</text>
<text x="274.37" y="220.35" font-size="5" font-weight="bold" fill="#dfe3ea" text-anchor="middle">80</text>
<text x="272.93" y="227.41" font-size="5" font-weight="bold" fill="#dfe3ea" text-anchor="middle">90</text>
<text x="268.25" y="232.89" font-size="5" font-weight="bold" fill="#dfe3ea" text-anchor="middle">100</text>
<text x="250.92" y="219.5" font-size="3.4" font-weight="bold" fill="#c8ccd6" text-anchor="middle">15</text>
<text x="252.5" y="215.45" font-size="3.4" font-weight="bold" fill="#c8ccd6" text-anchor="middle">20</text>
<text x="255.77" y="212.58" font-size="3.4" font-weight="bold" fill="#c8ccd6" text-anchor="middle">25</text>
<text x="260" y="211.54" font-size="3.4" font-weight="bold" fill="#c8ccd6" text-anchor="middle">30</text>
<text x="264.23" y="212.58" font-size="3.4" font-weight="bold" fill="#c8ccd6" text-anchor="middle">35</text>
<text x="267.5" y="215.45" font-size="3.4" font-weight="bold" fill="#c8ccd6" text-anchor="middle">40</text>
<text x="269.08" y="219.5" font-size="3.4" font-weight="bold" fill="#c8ccd6" text-anchor="middle">45</text>
<text x="263" y="232.92" font-size="3.6" font-weight="bold" fill="#c8ccd6" text-anchor="middle">%</text>
<text x="264" y="238.15" font-size="3.4" font-weight="bold" fill="#c8ccd6" text-anchor="middle">BARIGO</text>
<line x1="260" y1="219.4" x2="276.96" y2="218.21" stroke="#ece4cc" stroke-width="1" />
<circle cx="260" cy="219.4" r="1.5" fill="#d9c79a"/>
<rect x="233.95" y="191.55" width="54.7" height="54" fill="none" stroke="#ff1a1a" stroke-width="1.3"/>
<rect x="232.9" y="248.2" width="56.3" height="53.2" fill="url(#gbg2)"/>
<circle cx="260.8" cy="276.9" r="23.2" fill="#70767e" opacity="0.6"/>
<circle cx="260.8" cy="276.9" r="21.6" fill="#232a42"/>
<circle cx="260.8" cy="276.9" r="20.4" fill="#2b3456"/>
<line x1="249.28" y1="293.36" x2="250.89" y2="291.05" stroke="#d0d4dc" stroke-width="0.45" />
<line x1="247.67" y1="292.11" x2="248.52" y2="291.13" stroke="#d0d4dc" stroke-width="0.45" />
<line x1="246.2" y1="290.7" x2="247.15" y2="289.81" stroke="#d0d4dc" stroke-width="0.45" />
<line x1="244.88" y1="289.16" x2="245.91" y2="288.37" stroke="#d0d4dc" stroke-width="0.45" />
<line x1="243.73" y1="287.49" x2="244.83" y2="286.8" stroke="#d0d4dc" stroke-width="0.45" />
<line x1="242.75" y1="285.71" x2="245.27" y2="284.48" stroke="#d0d4dc" stroke-width="0.45" />
<line x1="241.95" y1="283.84" x2="243.16" y2="283.39" stroke="#d0d4dc" stroke-width="0.45" />
<line x1="241.34" y1="281.9" x2="242.6" y2="281.57" stroke="#d0d4dc" stroke-width="0.45" />
<line x1="240.94" y1="279.9" x2="242.22" y2="279.71" stroke="#d0d4dc" stroke-width="0.45" />
<line x1="240.74" y1="277.88" x2="242.03" y2="277.82" stroke="#d0d4dc" stroke-width="0.45" />
<line x1="240.74" y1="275.85" x2="243.54" y2="276" stroke="#d0d4dc" stroke-width="0.45" />
<line x1="240.95" y1="273.83" x2="242.23" y2="274.03" stroke="#d0d4dc" stroke-width="0.45" />
<line x1="241.36" y1="271.84" x2="242.61" y2="272.16" stroke="#d0d4dc" stroke-width="0.45" />
<line x1="241.97" y1="269.9" x2="243.19" y2="270.35" stroke="#d0d4dc" stroke-width="0.45" />
<line x1="242.78" y1="268.03" x2="243.94" y2="268.6" stroke="#d0d4dc" stroke-width="0.45" />
<line x1="243.76" y1="266.25" x2="246.15" y2="267.74" stroke="#d0d4dc" stroke-width="0.45" />
<line x1="244.93" y1="264.59" x2="245.95" y2="265.38" stroke="#d0d4dc" stroke-width="0.45" />
<line x1="246.25" y1="263.05" x2="247.19" y2="263.94" stroke="#d0d4dc" stroke-width="0.45" />
<line x1="247.73" y1="261.65" x2="248.57" y2="262.63" stroke="#d0d4dc" stroke-width="0.45" />
<line x1="249.34" y1="260.4" x2="250.08" y2="261.47" stroke="#d0d4dc" stroke-width="0.45" />
<line x1="251.06" y1="259.33" x2="252.42" y2="261.79" stroke="#d0d4dc" stroke-width="0.45" />
<line x1="252.89" y1="258.44" x2="253.4" y2="259.63" stroke="#d0d4dc" stroke-width="0.45" />
<line x1="254.79" y1="257.73" x2="255.18" y2="258.97" stroke="#d0d4dc" stroke-width="0.45" />
<line x1="256.76" y1="257.22" x2="257.02" y2="258.49" stroke="#d0d4dc" stroke-width="0.45" />
<line x1="258.77" y1="256.91" x2="258.9" y2="258.2" stroke="#d0d4dc" stroke-width="0.45" />
<line x1="260.8" y1="256.81" x2="260.8" y2="259.62" stroke="#d0d4dc" stroke-width="0.45" />
<line x1="262.83" y1="256.91" x2="262.7" y2="258.2" stroke="#d0d4dc" stroke-width="0.45" />
<line x1="264.84" y1="257.22" x2="264.58" y2="258.49" stroke="#d0d4dc" stroke-width="0.45" />
<line x1="266.81" y1="257.73" x2="266.42" y2="258.97" stroke="#d0d4dc" stroke-width="0.45" />
<line x1="268.71" y1="258.44" x2="268.2" y2="259.63" stroke="#d0d4dc" stroke-width="0.45" />
<line x1="270.54" y1="259.33" x2="269.18" y2="261.79" stroke="#d0d4dc" stroke-width="0.45" />
<line x1="272.26" y1="260.4" x2="271.52" y2="261.47" stroke="#d0d4dc" stroke-width="0.45" />
<line x1="273.87" y1="261.65" x2="273.03" y2="262.63" stroke="#d0d4dc" stroke-width="0.45" />
<line x1="275.35" y1="263.05" x2="274.41" y2="263.94" stroke="#d0d4dc" stroke-width="0.45" />
<line x1="276.67" y1="264.59" x2="275.65" y2="265.38" stroke="#d0d4dc" stroke-width="0.45" />
<line x1="277.84" y1="266.25" x2="275.45" y2="267.74" stroke="#d0d4dc" stroke-width="0.45" />
<line x1="278.82" y1="268.03" x2="277.66" y2="268.6" stroke="#d0d4dc" stroke-width="0.45" />
<line x1="279.63" y1="269.9" x2="278.41" y2="270.35" stroke="#d0d4dc" stroke-width="0.45" />
<line x1="280.24" y1="271.84" x2="278.99" y2="272.16" stroke="#d0d4dc" stroke-width="0.45" />
<line x1="280.65" y1="273.83" x2="279.37" y2="274.03" stroke="#d0d4dc" stroke-width="0.45" />
<line x1="280.86" y1="275.85" x2="278.06" y2="276" stroke="#d0d4dc" stroke-width="0.45" />
<line x1="280.86" y1="277.88" x2="279.57" y2="277.82" stroke="#d0d4dc" stroke-width="0.45" />
<line x1="280.66" y1="279.9" x2="279.38" y2="279.71" stroke="#d0d4dc" stroke-width="0.45" />
<line x1="280.26" y1="281.9" x2="279" y2="281.57" stroke="#d0d4dc" stroke-width="0.45" />
<line x1="279.65" y1="283.84" x2="278.44" y2="283.39" stroke="#d0d4dc" stroke-width="0.45" />
<line x1="278.85" y1="285.71" x2="276.33" y2="284.48" stroke="#d0d4dc" stroke-width="0.45" />
<line x1="277.87" y1="287.49" x2="276.77" y2="286.8" stroke="#d0d4dc" stroke-width="0.45" />
<line x1="276.72" y1="289.16" x2="275.69" y2="288.37" stroke="#d0d4dc" stroke-width="0.45" />
<line x1="275.4" y1="290.7" x2="274.45" y2="289.81" stroke="#d0d4dc" stroke-width="0.45" />
<line x1="273.93" y1="292.11" x2="273.08" y2="291.13" stroke="#d0d4dc" stroke-width="0.45" />
<line x1="272.32" y1="293.36" x2="270.71" y2="291.05" stroke="#d0d4dc" stroke-width="0.45" />
<text x="252.62" y="290.28" font-size="5" font-weight="bold" fill="#dfe3ea" text-anchor="middle">0</text>
<text x="247.99" y="284.85" font-size="5" font-weight="bold" fill="#dfe3ea" text-anchor="middle">10</text>
<text x="246.56" y="277.85" font-size="5" font-weight="bold" fill="#dfe3ea" text-anchor="middle">20</text>
<text x="248.71" y="271.05" font-size="5" font-weight="bold" fill="#dfe3ea" text-anchor="middle">30</text>
<text x="253.89" y="266.13" font-size="5" font-weight="bold" fill="#dfe3ea" text-anchor="middle">40</text>
<text x="260.8" y="264.34" font-size="5" font-weight="bold" fill="#dfe3ea" text-anchor="middle">50</text>
<text x="267.71" y="266.13" font-size="5" font-weight="bold" fill="#dfe3ea" text-anchor="middle">60</text>
<text x="272.89" y="271.05" font-size="5" font-weight="bold" fill="#dfe3ea" text-anchor="middle">70</text>
<text x="275.04" y="277.85" font-size="5" font-weight="bold" fill="#dfe3ea" text-anchor="middle">80</text>
<text x="273.61" y="284.85" font-size="5" font-weight="bold" fill="#dfe3ea" text-anchor="middle">90</text>
<text x="268.98" y="290.28" font-size="5" font-weight="bold" fill="#dfe3ea" text-anchor="middle">100</text>
<text x="251.81" y="277.02" font-size="3.4" font-weight="bold" fill="#c8ccd6" text-anchor="middle">15</text>
<text x="253.37" y="273" font-size="3.4" font-weight="bold" fill="#c8ccd6" text-anchor="middle">20</text>
<text x="256.61" y="270.15" font-size="3.4" font-weight="bold" fill="#c8ccd6" text-anchor="middle">25</text>
<text x="260.8" y="269.13" font-size="3.4" font-weight="bold" fill="#c8ccd6" text-anchor="middle">30</text>
<text x="264.99" y="270.15" font-size="3.4" font-weight="bold" fill="#c8ccd6" text-anchor="middle">35</text>
<text x="268.23" y="273" font-size="3.4" font-weight="bold" fill="#c8ccd6" text-anchor="middle">40</text>
<text x="269.79" y="277.02" font-size="3.4" font-weight="bold" fill="#c8ccd6" text-anchor="middle">45</text>
<text x="263.8" y="290.29" font-size="3.6" font-weight="bold" fill="#c8ccd6" text-anchor="middle">%</text>
<text x="264.8" y="295.48" font-size="3.4" font-weight="bold" fill="#c8ccd6" text-anchor="middle">BARIGO</text>
<line x1="260.8" y1="276.9" x2="273.52" y2="265.85" stroke="#ece4cc" stroke-width="1" />
<circle cx="260.8" cy="276.9" r="1.5" fill="#d9c79a"/>
<rect x="233.55" y="248.85" width="55" height="51.9" fill="none" stroke="#1a1aff" stroke-width="1.3"/>
<rect x="232.9" y="304" width="56.3" height="53.8" fill="url(#gbg3)"/>
<circle cx="260.5" cy="331.6" r="23.4" fill="#70767e" opacity="0.6"/>
<circle cx="260.5" cy="331.6" r="21.8" fill="#232a42"/>
<circle cx="260.5" cy="331.6" r="20.6" fill="#2b3456"/>
<line x1="248.87" y1="348.21" x2="250.5" y2="345.89" stroke="#d0d4dc" stroke-width="0.45" />
<line x1="247.25" y1="346.95" x2="248.11" y2="345.96" stroke="#d0d4dc" stroke-width="0.45" />
<line x1="245.77" y1="345.53" x2="246.72" y2="344.63" stroke="#d0d4dc" stroke-width="0.45" />
<line x1="244.44" y1="343.97" x2="245.47" y2="343.17" stroke="#d0d4dc" stroke-width="0.45" />
<line x1="243.27" y1="342.28" x2="244.38" y2="341.59" stroke="#d0d4dc" stroke-width="0.45" />
<line x1="242.28" y1="340.49" x2="244.83" y2="339.25" stroke="#d0d4dc" stroke-width="0.45" />
<line x1="241.47" y1="338.6" x2="242.7" y2="338.15" stroke="#d0d4dc" stroke-width="0.45" />
<line x1="240.86" y1="336.64" x2="242.13" y2="336.32" stroke="#d0d4dc" stroke-width="0.45" />
<line x1="240.45" y1="334.63" x2="241.75" y2="334.44" stroke="#d0d4dc" stroke-width="0.45" />
<line x1="240.25" y1="332.59" x2="241.56" y2="332.53" stroke="#d0d4dc" stroke-width="0.45" />
<line x1="240.25" y1="330.54" x2="243.08" y2="330.69" stroke="#d0d4dc" stroke-width="0.45" />
<line x1="240.46" y1="328.5" x2="241.76" y2="328.7" stroke="#d0d4dc" stroke-width="0.45" />
<line x1="240.88" y1="326.49" x2="242.15" y2="326.82" stroke="#d0d4dc" stroke-width="0.45" />
<line x1="241.5" y1="324.53" x2="242.72" y2="324.99" stroke="#d0d4dc" stroke-width="0.45" />
<line x1="242.31" y1="322.65" x2="243.48" y2="323.23" stroke="#d0d4dc" stroke-width="0.45" />
<line x1="243.31" y1="320.86" x2="245.71" y2="322.36" stroke="#d0d4dc" stroke-width="0.45" />
<line x1="244.48" y1="319.17" x2="245.51" y2="319.98" stroke="#d0d4dc" stroke-width="0.45" />
<line x1="245.82" y1="317.62" x2="246.77" y2="318.52" stroke="#d0d4dc" stroke-width="0.45" />
<line x1="247.31" y1="316.21" x2="248.16" y2="317.2" stroke="#d0d4dc" stroke-width="0.45" />
<line x1="248.93" y1="314.95" x2="249.68" y2="316.03" stroke="#d0d4dc" stroke-width="0.45" />
<line x1="250.67" y1="313.87" x2="252.04" y2="316.35" stroke="#d0d4dc" stroke-width="0.45" />
<line x1="252.51" y1="312.97" x2="253.03" y2="314.17" stroke="#d0d4dc" stroke-width="0.45" />
<line x1="254.44" y1="312.25" x2="254.83" y2="313.5" stroke="#d0d4dc" stroke-width="0.45" />
<line x1="256.42" y1="311.74" x2="256.69" y2="313.02" stroke="#d0d4dc" stroke-width="0.45" />
<line x1="258.45" y1="311.43" x2="258.58" y2="312.73" stroke="#d0d4dc" stroke-width="0.45" />
<line x1="260.5" y1="311.33" x2="260.5" y2="314.16" stroke="#d0d4dc" stroke-width="0.45" />
<line x1="262.55" y1="311.43" x2="262.42" y2="312.73" stroke="#d0d4dc" stroke-width="0.45" />
<line x1="264.58" y1="311.74" x2="264.31" y2="313.02" stroke="#d0d4dc" stroke-width="0.45" />
<line x1="266.56" y1="312.25" x2="266.17" y2="313.5" stroke="#d0d4dc" stroke-width="0.45" />
<line x1="268.49" y1="312.97" x2="267.97" y2="314.17" stroke="#d0d4dc" stroke-width="0.45" />
<line x1="270.33" y1="313.87" x2="268.96" y2="316.35" stroke="#d0d4dc" stroke-width="0.45" />
<line x1="272.07" y1="314.95" x2="271.32" y2="316.03" stroke="#d0d4dc" stroke-width="0.45" />
<line x1="273.69" y1="316.21" x2="272.84" y2="317.2" stroke="#d0d4dc" stroke-width="0.45" />
<line x1="275.18" y1="317.62" x2="274.23" y2="318.52" stroke="#d0d4dc" stroke-width="0.45" />
<line x1="276.52" y1="319.17" x2="275.49" y2="319.98" stroke="#d0d4dc" stroke-width="0.45" />
<line x1="277.69" y1="320.86" x2="275.29" y2="322.36" stroke="#d0d4dc" stroke-width="0.45" />
<line x1="278.69" y1="322.65" x2="277.52" y2="323.23" stroke="#d0d4dc" stroke-width="0.45" />
<line x1="279.5" y1="324.53" x2="278.28" y2="324.99" stroke="#d0d4dc" stroke-width="0.45" />
<line x1="280.12" y1="326.49" x2="278.85" y2="326.82" stroke="#d0d4dc" stroke-width="0.45" />
<line x1="280.54" y1="328.5" x2="279.24" y2="328.7" stroke="#d0d4dc" stroke-width="0.45" />
<line x1="280.75" y1="330.54" x2="277.92" y2="330.69" stroke="#d0d4dc" stroke-width="0.45" />
<line x1="280.75" y1="332.59" x2="279.44" y2="332.53" stroke="#d0d4dc" stroke-width="0.45" />
<line x1="280.55" y1="334.63" x2="279.25" y2="334.44" stroke="#d0d4dc" stroke-width="0.45" />
<line x1="280.14" y1="336.64" x2="278.87" y2="336.32" stroke="#d0d4dc" stroke-width="0.45" />
<line x1="279.53" y1="338.6" x2="278.3" y2="338.15" stroke="#d0d4dc" stroke-width="0.45" />
<line x1="278.72" y1="340.49" x2="276.17" y2="339.25" stroke="#d0d4dc" stroke-width="0.45" />
<line x1="277.73" y1="342.28" x2="276.62" y2="341.59" stroke="#d0d4dc" stroke-width="0.45" />
<line x1="276.56" y1="343.97" x2="275.53" y2="343.17" stroke="#d0d4dc" stroke-width="0.45" />
<line x1="275.23" y1="345.53" x2="274.28" y2="344.63" stroke="#d0d4dc" stroke-width="0.45" />
<line x1="273.75" y1="346.95" x2="272.89" y2="345.96" stroke="#d0d4dc" stroke-width="0.45" />
<line x1="272.13" y1="348.21" x2="270.5" y2="345.89" stroke="#d0d4dc" stroke-width="0.45" />
<text x="252.25" y="345.09" font-size="5" font-weight="bold" fill="#dfe3ea" text-anchor="middle">0</text>
<text x="247.57" y="339.61" font-size="5" font-weight="bold" fill="#dfe3ea" text-anchor="middle">10</text>
<text x="246.13" y="332.55" font-size="5" font-weight="bold" fill="#dfe3ea" text-anchor="middle">20</text>
<text x="248.3" y="325.68" font-size="5" font-weight="bold" fill="#dfe3ea" text-anchor="middle">30</text>
<text x="253.52" y="320.72" font-size="5" font-weight="bold" fill="#dfe3ea" text-anchor="middle">40</text>
<text x="260.5" y="318.91" font-size="5" font-weight="bold" fill="#dfe3ea" text-anchor="middle">50</text>
<text x="267.48" y="320.72" font-size="5" font-weight="bold" fill="#dfe3ea" text-anchor="middle">60</text>
<text x="272.7" y="325.68" font-size="5" font-weight="bold" fill="#dfe3ea" text-anchor="middle">70</text>
<text x="274.87" y="332.55" font-size="5" font-weight="bold" fill="#dfe3ea" text-anchor="middle">80</text>
<text x="273.43" y="339.61" font-size="5" font-weight="bold" fill="#dfe3ea" text-anchor="middle">90</text>
<text x="268.75" y="345.09" font-size="5" font-weight="bold" fill="#dfe3ea" text-anchor="middle">100</text>
<text x="251.42" y="331.7" font-size="3.4" font-weight="bold" fill="#c8ccd6" text-anchor="middle">15</text>
<text x="253" y="327.65" font-size="3.4" font-weight="bold" fill="#c8ccd6" text-anchor="middle">20</text>
<text x="256.27" y="324.78" font-size="3.4" font-weight="bold" fill="#c8ccd6" text-anchor="middle">25</text>
<text x="260.5" y="323.74" font-size="3.4" font-weight="bold" fill="#c8ccd6" text-anchor="middle">30</text>
<text x="264.73" y="324.78" font-size="3.4" font-weight="bold" fill="#c8ccd6" text-anchor="middle">35</text>
<text x="268" y="327.65" font-size="3.4" font-weight="bold" fill="#c8ccd6" text-anchor="middle">40</text>
<text x="269.58" y="331.7" font-size="3.4" font-weight="bold" fill="#c8ccd6" text-anchor="middle">45</text>
<text x="263.5" y="345.12" font-size="3.6" font-weight="bold" fill="#c8ccd6" text-anchor="middle">%</text>
<text x="264.5" y="350.35" font-size="3.4" font-weight="bold" fill="#c8ccd6" text-anchor="middle">BARIGO</text>
<line x1="260.5" y1="331.6" x2="271.88" y2="318.96" stroke="#ece4cc" stroke-width="1" />
<circle cx="260.5" cy="331.6" r="1.5" fill="#d9c79a"/>
<rect x="233.55" y="304.65" width="55" height="52.5" fill="none" stroke="#0d0d0d" stroke-width="1.3"/>
<text x="299.3" y="197.7" font-size="15" fill="#000" text-anchor="start" font-weight="bold" >(e)</text>
<rect x="320.9" y="190.7" width="99.9" height="78.9" fill="#f5f5f5"/>
<clipPath id="cl190"><rect x="320.9" y="190.7" width="99.9" height="68.9"/></clipPath>
<circle cx="371.6" cy="235.3" r="40" fill="#060606" clip-path="url(#cl190)"/>
<path d="M379.6,195.9 A40,40 0 0 1 409.6,223.3" fill="none" stroke="#1e3a66" stroke-width="0.7" clip-path="url(#cl190)"/>
<rect x="320.9" y="259.6" width="99.9" height="10" fill="#070707" />
<path d="M361,227.7 L380,227.7 Q381.2,227.7 381.2,229.1 L381.2,230.7 A10.7,10.7 0 0 1 359.8,230.7 L359.8,229.1 Q359.8,227.7 361,227.7 Z" fill="#f8f9fb"/>
<line x1="327.1" y1="245.2" x2="344.6" y2="259.6" stroke="#f01010" stroke-width="0.9" />
<line x1="344.6" y1="259.8" x2="412" y2="259.8" stroke="#e81010" stroke-width="1.3" />
<path d="M339.6,253.4 Q346.45,250.9 351.3,259.3" fill="none" stroke="#f01010" stroke-width="0.7"/>
<text x="350.3" y="254" font-size="10" fill="#f01010" text-anchor="start" font-weight="normal" >132.3°</text>
<text transform="translate(370,282.6) scale(0.955,1)" font-size="11.7" fill="#111" text-anchor="middle">Ag NPs-Skeleton</text>
<rect x="320.9" y="289.4" width="100.3" height="71.3" fill="#f5f5f5"/>
<clipPath id="cl289"><rect x="320.9" y="289.4" width="100.3" height="60.4"/></clipPath>
<circle cx="372.5" cy="329.3" r="39.5" fill="#060606" clip-path="url(#cl289)"/>
<path d="M380.4,290.39 A39.5,39.5 0 0 1 410.02,317.45" fill="none" stroke="#1e3a66" stroke-width="0.7" clip-path="url(#cl289)"/>
<rect x="320.9" y="349.8" width="100.3" height="10.9" fill="#070707" />
<path d="M363.2,322.2 L382,322.2 Q383.2,322.2 383.2,323.6 L383.2,325.2 A10.6,11.3 0 0 1 362,325.2 L362,323.6 Q362,322.2 363.2,322.2 Z" fill="#f8f9fb"/>
<line x1="326.9" y1="332.8" x2="341.5" y2="349.8" stroke="#f01010" stroke-width="0.9" />
<line x1="341.5" y1="350" x2="408.3" y2="350" stroke="#e81010" stroke-width="1.3" />
<path d="M336,344.5 Q343,342 348,349.6" fill="none" stroke="#f01010" stroke-width="0.7"/>
<text x="348.5" y="347" font-size="10" fill="#f01010" text-anchor="start" font-weight="normal" >122.5°</text>
<text transform="translate(369.3,374.3) scale(0.955,1)" font-size="11.7" fill="#111" text-anchor="middle">Ag NPs-Skeleton-Ot</text>
<rect x="473.2" y="187.8" width="209.7" height="168.5" fill="url(#bg)" />
<rect x="491.1" y="231.68" width="15.2" height="124.62" fill="url(#of)" />
<rect x="506.3" y="317.16" width="14.8" height="39.14" fill="url(#gf)" />
<line x1="498.7" y1="230.53" x2="498.7" y2="232.83" stroke="#555" stroke-width="0.6" />
<line x1="497.1" y1="230.53" x2="500.3" y2="230.53" stroke="#555" stroke-width="0.7" />
<line x1="497.1" y1="232.83" x2="500.3" y2="232.83" stroke="#555" stroke-width="0.7" />
<line x1="513.7" y1="308.53" x2="513.7" y2="325.79" stroke="#888" stroke-width="0.6" />
<line x1="512.1" y1="308.53" x2="515.3" y2="308.53" stroke="#555" stroke-width="0.7" />
<line x1="512.1" y1="325.79" x2="515.3" y2="325.79" stroke="#555" stroke-width="0.7" />
<rect x="542.4" y="226.93" width="15.2" height="129.37" fill="url(#of)" />
<rect x="557.6" y="273.13" width="14.8" height="83.17" fill="url(#gf)" />
<line x1="550" y1="224.63" x2="550" y2="229.24" stroke="#555" stroke-width="0.6" />
<line x1="548.4" y1="224.63" x2="551.6" y2="224.63" stroke="#555" stroke-width="0.7" />
<line x1="548.4" y1="229.24" x2="551.6" y2="229.24" stroke="#555" stroke-width="0.7" />
<line x1="565" y1="268.81" x2="565" y2="277.44" stroke="#888" stroke-width="0.6" />
<line x1="563.4" y1="268.81" x2="566.6" y2="268.81" stroke="#555" stroke-width="0.7" />
<line x1="563.4" y1="277.44" x2="566.6" y2="277.44" stroke="#555" stroke-width="0.7" />
<rect x="593.7" y="222.04" width="15.2" height="134.26" fill="url(#of)" />
<rect x="608.9" y="257.01" width="14.8" height="99.29" fill="url(#gf)" />
<line x1="601.3" y1="220.6" x2="601.3" y2="223.48" stroke="#555" stroke-width="0.6" />
<line x1="599.7" y1="220.6" x2="602.9" y2="220.6" stroke="#555" stroke-width="0.7" />
<line x1="599.7" y1="223.48" x2="602.9" y2="223.48" stroke="#555" stroke-width="0.7" />
<line x1="616.3" y1="251.25" x2="616.3" y2="257.01" stroke="#888" stroke-width="0.6" />
<line x1="614.7" y1="251.25" x2="617.9" y2="251.25" stroke="#555" stroke-width="0.7" />
<line x1="614.7" y1="262.76" x2="617.9" y2="262.76" stroke="#555" stroke-width="0.7" />
<rect x="645" y="223.91" width="15.2" height="132.39" fill="url(#of)" />
<rect x="660.2" y="260.89" width="14.8" height="95.41" fill="url(#gf)" />
<line x1="652.6" y1="223.34" x2="652.6" y2="224.49" stroke="#555" stroke-width="0.6" />
<line x1="651" y1="223.34" x2="654.2" y2="223.34" stroke="#555" stroke-width="0.7" />
<line x1="651" y1="224.49" x2="654.2" y2="224.49" stroke="#555" stroke-width="0.7" />
<line x1="666" y1="251.54" x2="669.2" y2="251.54" stroke="#555" stroke-width="0.7" />
<line x1="666" y1="270.25" x2="669.2" y2="270.25" stroke="#555" stroke-width="0.7" />
<rect x="477.2" y="196.1" width="19.9" height="9.2" fill="url(#of)" />
<rect x="577.1" y="196.1" width="19.1" height="9.2" fill="url(#gf)" />
<text x="501.7" y="204.4" font-size="8.9" fill="#111" text-anchor="start" font-weight="normal" >Ag NPs-Skeleton</text>
<text x="599.2" y="204.4" font-size="8.75" fill="#111" text-anchor="start" font-weight="normal" >Ag NPs-Skeleton-Ot</text>
<line x1="473.2" y1="187.8" x2="682.9" y2="187.8" stroke="#666" stroke-width="1" />
<line x1="682.9" y1="187.8" x2="682.9" y2="356.3" stroke="#666" stroke-width="1" />
<line x1="473.2" y1="187.8" x2="473.2" y2="356.3" stroke="#777" stroke-width="1.6" />
<line x1="470.6" y1="356.3" x2="682.9" y2="356.3" stroke="#444" stroke-width="1" />
<line x1="470" y1="356.3" x2="473.2" y2="356.3" stroke="#333" stroke-width="1" />
<text transform="translate(467.6,359.29) scale(0.9,1)" font-size="8.3" fill="#222" text-anchor="end">0</text>
<line x1="470" y1="327.52" x2="473.2" y2="327.52" stroke="#333" stroke-width="1" />
<text transform="translate(467.6,330.51) scale(0.9,1)" font-size="8.3" fill="#222" text-anchor="end">20</text>
<line x1="470" y1="298.74" x2="473.2" y2="298.74" stroke="#333" stroke-width="1" />
<text transform="translate(467.6,301.73) scale(0.9,1)" font-size="8.3" fill="#222" text-anchor="end">40</text>
<line x1="470" y1="269.96" x2="473.2" y2="269.96" stroke="#333" stroke-width="1" />
<text transform="translate(467.6,272.95) scale(0.9,1)" font-size="8.3" fill="#222" text-anchor="end">60</text>
<line x1="470" y1="241.18" x2="473.2" y2="241.18" stroke="#333" stroke-width="1" />
<text transform="translate(467.6,244.17) scale(0.9,1)" font-size="8.3" fill="#222" text-anchor="end">80</text>
<line x1="470" y1="212.4" x2="473.2" y2="212.4" stroke="#333" stroke-width="1" />
<text transform="translate(467.6,215.39) scale(0.9,1)" font-size="8.3" fill="#222" text-anchor="end">100</text>
<line x1="471.4" y1="341.91" x2="473.2" y2="341.91" stroke="#333" stroke-width="0.9" />
<line x1="471.4" y1="313.13" x2="473.2" y2="313.13" stroke="#333" stroke-width="0.9" />
<line x1="471.4" y1="284.35" x2="473.2" y2="284.35" stroke="#333" stroke-width="0.9" />
<line x1="471.4" y1="255.57" x2="473.2" y2="255.57" stroke="#333" stroke-width="0.9" />
<line x1="471.4" y1="226.79" x2="473.2" y2="226.79" stroke="#333" stroke-width="0.9" />
<line x1="471.4" y1="198.01" x2="473.2" y2="198.01" stroke="#333" stroke-width="0.9" />
<line x1="498.7" y1="356.3" x2="498.7" y2="358.9" stroke="#444" stroke-width="0.9" />
<text transform="translate(498.7,368.9) scale(0.95,1)" font-size="8.4" fill="#222" text-anchor="middle">25</text>
<line x1="550" y1="356.3" x2="550" y2="358.9" stroke="#444" stroke-width="0.9" />
<text transform="translate(550,368.9) scale(0.95,1)" font-size="8.4" fill="#222" text-anchor="middle">50</text>
<line x1="601.3" y1="356.3" x2="601.3" y2="358.9" stroke="#444" stroke-width="0.9" />
<text transform="translate(601.3,368.9) scale(0.95,1)" font-size="8.4" fill="#222" text-anchor="middle">100</text>
<line x1="652.6" y1="356.3" x2="652.6" y2="358.9" stroke="#444" stroke-width="0.9" />
<text transform="translate(652.6,368.9) scale(0.95,1)" font-size="8.4" fill="#222" text-anchor="middle">200</text>
<text transform="translate(452.4,272.4) rotate(-90)" font-size="10.4" fill="#111" text-anchor="middle">CO Faradaic effciency (%)</text>
<text x="579.6" y="380.6" font-size="10.3" fill="#111" text-anchor="middle">Current density (mA cm<tspan font-size="6.8" dy="-3.8">-2</tspan><tspan dy="3.8">)</tspan></text>
<text x="445.5" y="194.6" font-size="15" fill="#000" text-anchor="start" font-weight="bold" >(f)</text>
</svg>
</body></html>
